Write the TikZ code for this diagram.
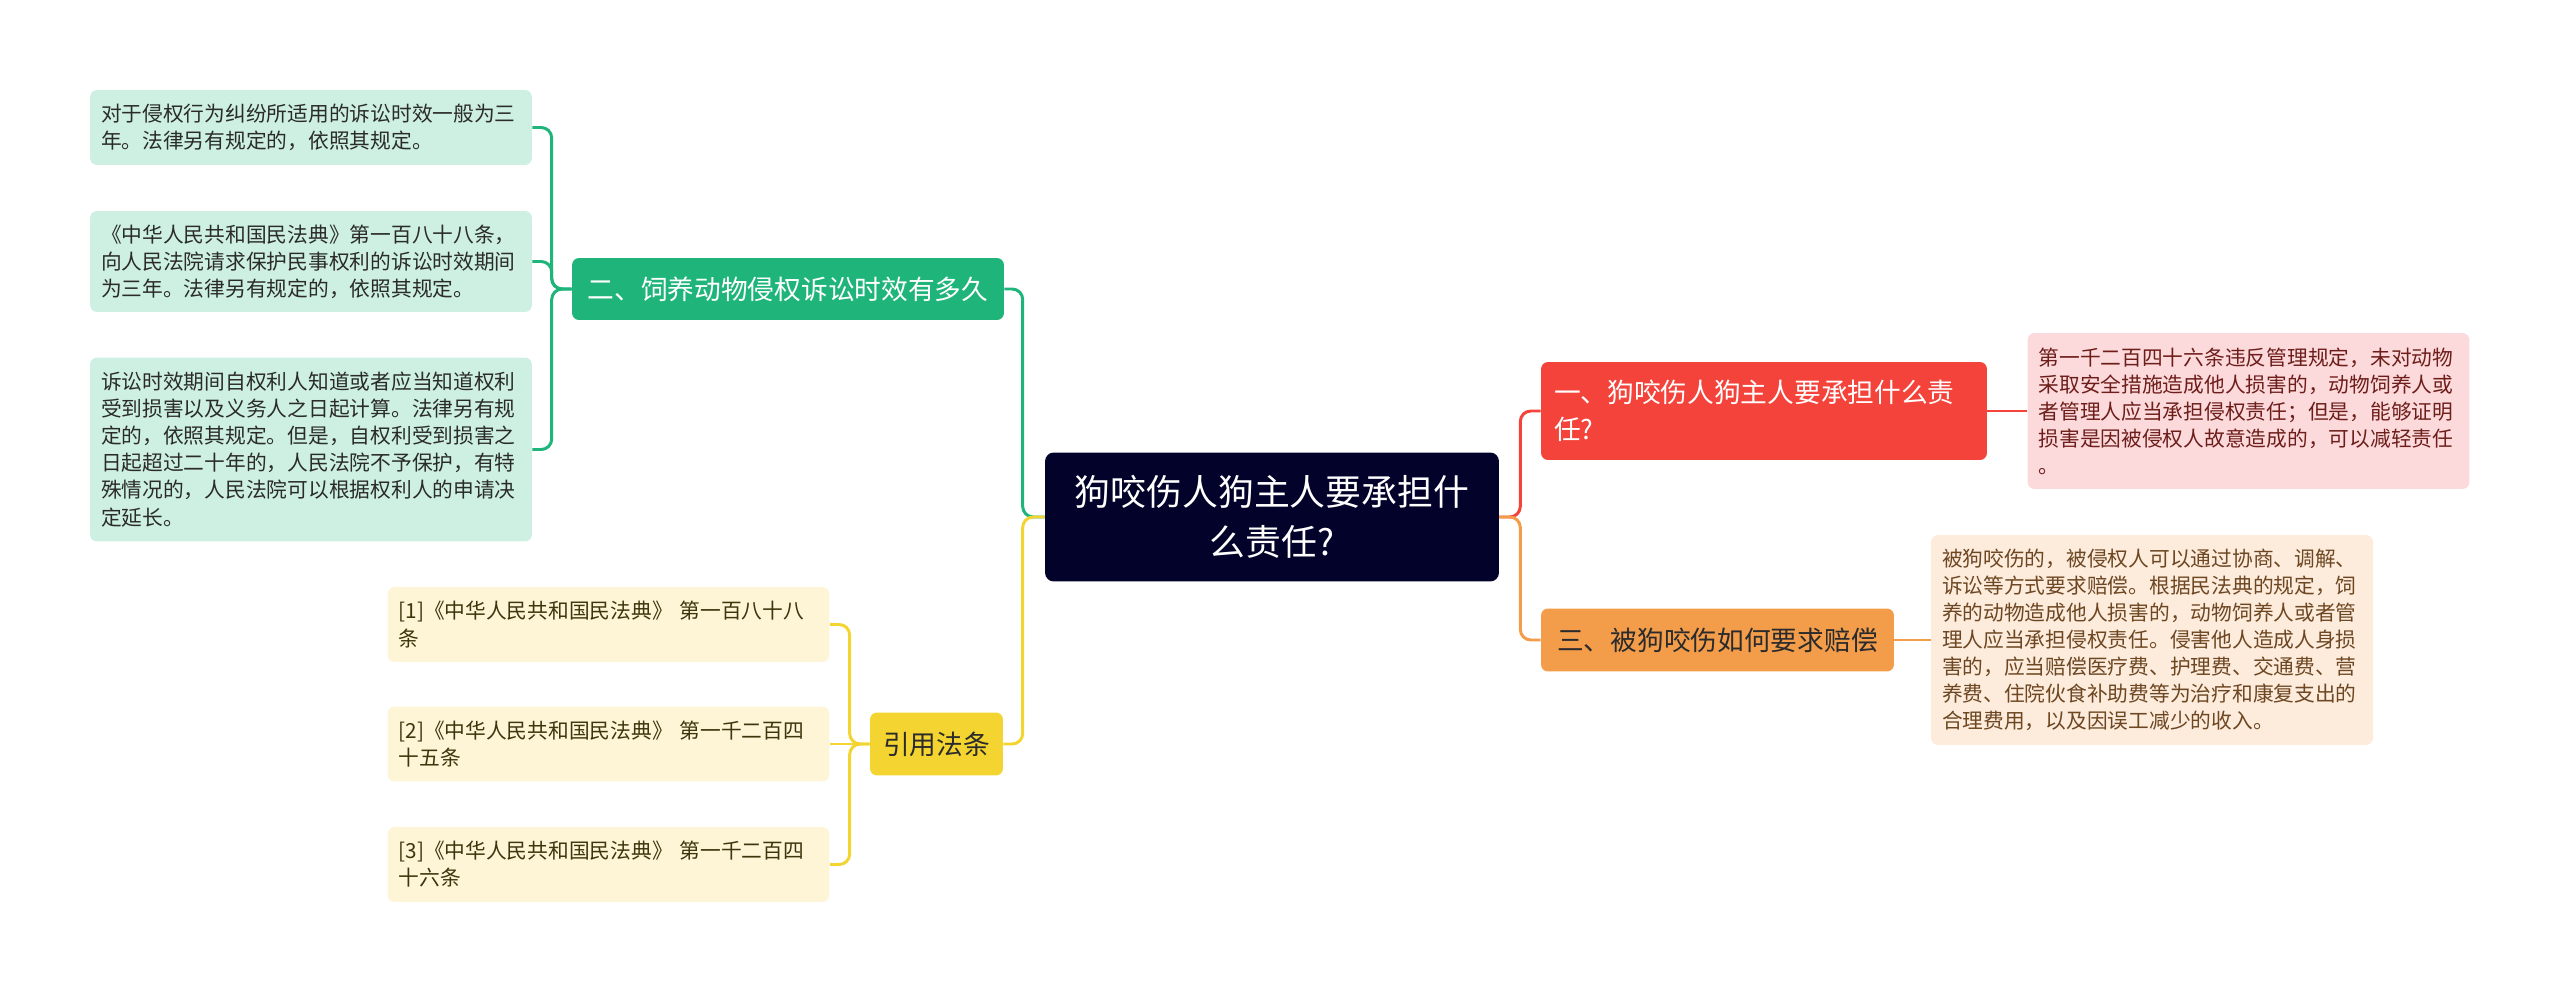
\documentclass[tikz,border=0pt]{standalone}
\usepackage{fontspec}
\setmainfont{Noto Sans CJK SC}
\definecolor{dogNavy}{HTML}{02022A}
\definecolor{dogGreen}{HTML}{1FB57A}
\definecolor{dogGreenLt}{HTML}{CDF0E2}
\definecolor{dogYellow}{HTML}{F3D430}
\definecolor{dogYellowLt}{HTML}{FDF5D6}
\definecolor{dogRed}{HTML}{F4433A}
\definecolor{dogRedLt}{HTML}{FCDADC}
\definecolor{dogOrange}{HTML}{F39D4B}
\definecolor{dogOrangeLt}{HTML}{FDEBDC}
\definecolor{dogInk}{HTML}{2B2B2B}

\begin{document}
\begin{tikzpicture}[x=0.02cm,y=-0.02cm,
    leaf/.style={rounded corners=4pt,align=left,text width=8.4cm,
                 inner xsep=0.22cm,font=\fontsize{11.8}{15.4}\selectfont},
    branch/.style={rounded corners=4pt,inner xsep=0.26cm,
                   font=\fontsize{15.2}{21}\selectfont},
    link/.style={line width=1.7pt,rounded corners=6pt}]
  \useasboundingbox (0,0) rectangle (2560,993);

  % centre
  \node[rounded corners=5pt,fill=dogNavy,text=white,align=center,
        minimum width=9.08cm,minimum height=2.58cm,
        font=\fontsize{20.4}{28.5}\selectfont] (cn) at (1272,517)
    {狗咬伤人狗主人要承担什\\么责任?};

  % left branches
  \node[branch,fill=dogGreen,text=white,minimum width=8.64cm,minimum height=1.24cm]
    (gb) at (788,289) {二、饲养动物侵权诉讼时效有多久};
  \node[branch,fill=dogYellow,text=dogInk,minimum width=2.66cm,minimum height=1.26cm]
    (yb) at (936.5,744) {引用法条};

  \node[leaf,fill=dogGreenLt,text=dogInk,minimum height=1.5cm] (g1) at (311,127.5)
    {对于侵权行为纠纷所适用的诉讼时效一般为三\\年。法律另有规定的，依照其规定。};
  \node[leaf,fill=dogGreenLt,text=dogInk,minimum height=2.02cm] (g2) at (311,261.5)
    {《中华人民共和国民法典》第一百八十八条，\\向人民法院请求保护民事权利的诉讼时效期间\\为三年。法律另有规定的，依照其规定。};
  \node[leaf,fill=dogGreenLt,text=dogInk,minimum height=3.68cm] (g3) at (311,449.5)
    {诉讼时效期间自权利人知道或者应当知道权利\\受到损害以及义务人之日起计算。法律另有规\\定的，依照其规定。但是，自权利受到损害之\\日起超过二十年的，人民法院不予保护，有特\\殊情况的，人民法院可以根据权利人的申请决\\定延长。};

  \node[leaf,fill=dogYellowLt,text=dogYellow!25!black,minimum height=1.5cm] (y1) at (608.5,624.5)
    {[1]《中华人民共和国民法典》 第一百八十八\\条};
  \node[leaf,fill=dogYellowLt,text=dogYellow!25!black,minimum height=1.5cm] (y2) at (608.5,744)
    {[2]《中华人民共和国民法典》 第一千二百四\\十五条};
  \node[leaf,fill=dogYellowLt,text=dogYellow!25!black,minimum height=1.5cm] (y3) at (608.5,864.5)
    {[3]《中华人民共和国民法典》 第一千二百四\\十六条};

  % right branches
  \node[branch,fill=dogRed,text=white,align=left,text width=8.4cm,minimum height=1.96cm]
    (rb) at (1764,411) {一、狗咬伤人狗主人要承担什么责\\任?};
  \node[branch,fill=dogOrange,text=dogInk,minimum width=7.06cm,minimum height=1.26cm]
    (ob) at (1717.5,640) {三、被狗咬伤如何要求赔偿};

  \node[leaf,fill=dogRedLt,text=dogRed!45!black,minimum height=3.12cm] (rl) at (2248.5,411)
    {第一千二百四十六条违反管理规定，未对动物\\采取安全措施造成他人损害的，动物饲养人或\\者管理人应当承担侵权责任；但是，能够证明\\损害是因被侵权人故意造成的，可以减轻责任\\。};
  \node[leaf,fill=dogOrangeLt,text=dogOrange!45!black,minimum height=4.2cm] (ol) at (2152,640)
    {被狗咬伤的，被侵权人可以通过协商、调解、\\诉讼等方式要求赔偿。根据民法典的规定，饲\\养的动物造成他人损害的，动物饲养人或者管\\理人应当承担侵权责任。侵害他人造成人身损\\害的，应当赔偿医疗费、护理费、交通费、营\\养费、住院伙食补助费等为治疗和康复支出的\\合理费用，以及因误工减少的收入。};

  % connectors
  \draw[link,dogGreen] (cn.west) -- ++(-22,0) |- (gb.east);
  \draw[link,dogYellow] (cn.west) -- ++(-22,0) |- (yb.east);
  \draw[link,dogRed] (cn.east) -- ++(21,0) |- (rb.west);
  \draw[link,dogOrange] (cn.east) -- ++(21,0) |- (ob.west);

  \draw[link,dogGreen] (gb.west) -- ++(-20,0) |- (g1.east);
  \draw[link,dogGreen] (gb.west) -- ++(-20,0) |- (g2.east);
  \draw[link,dogGreen] (gb.west) -- ++(-20,0) |- (g3.east);
  \draw[link,dogYellow] (yb.west) -- ++(-20,0) |- (y1.east);
  \draw[link,dogYellow] (yb.west) -- (y2.east);
  \draw[link,dogYellow] (yb.west) -- ++(-20,0) |- (y3.east);
  \draw[link,dogRed] (rb.east) -- (rl.west);
  \draw[link,dogOrange] (ob.east) -- (ol.west);
\end{tikzpicture}
\end{document}
